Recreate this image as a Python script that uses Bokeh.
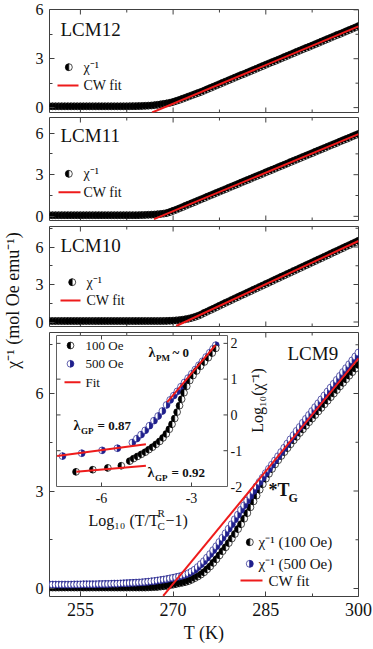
import math
from bokeh.plotting import figure
from bokeh.models import Range1d, LinearAxis, FixedTicker, Label, ColumnDataSource
from bokeh.layouts import column, row
from bokeh.embed import file_html
from bokeh.resources import INLINE
from bokeh.core.properties import value

# ------------------------------------------------------------------ data
T_K = [250.0, 250.5, 251.0, 251.5, 252.0, 252.5, 253.0, 253.5, 254.0, 254.5,
       255.0, 255.5, 256.0, 256.5, 257.0, 257.5, 258.0, 258.5, 259.0, 259.5,
       260.0, 260.5, 261.0, 261.5, 262.0, 262.5, 263.0, 263.5, 264.0, 264.5,
       265.0, 265.5, 266.0, 266.5, 267.0, 267.5, 268.0, 268.5, 269.0, 269.5,
       270.0, 270.5, 271.0, 271.5, 272.0, 272.5, 273.0, 273.5, 274.0, 274.5,
       275.0, 275.5, 276.0, 276.5, 277.0, 277.5, 278.0, 278.5, 279.0, 279.5,
       280.0, 280.5, 281.0, 281.5, 282.0, 282.5, 283.0, 283.5, 284.0, 284.5,
       285.0, 285.5, 286.0, 286.5, 287.0, 287.5, 288.0, 288.5, 289.0, 289.5,
       290.0, 290.5, 291.0, 291.5, 292.0, 292.5, 293.0, 293.5, 294.0, 294.5,
       295.0, 295.5, 296.0, 296.5, 297.0, 297.5, 298.0, 298.5, 299.0, 299.5,
       300.0]

chi_lcm12 = [0.08, 0.08, 0.08, 0.08, 0.08, 0.08, 0.08, 0.08, 0.08, 0.08,
             0.08, 0.08, 0.08, 0.08, 0.08, 0.08, 0.08, 0.08, 0.08, 0.08,
             0.08, 0.08, 0.08, 0.08, 0.08, 0.08, 0.085, 0.09, 0.09, 0.095,
             0.10, 0.11, 0.12, 0.13, 0.15, 0.17, 0.20, 0.23, 0.26, 0.30,
             0.35, 0.41, 0.47, 0.54, 0.61, 0.68, 0.75, 0.82, 0.89, 0.96,
             1.04, 1.12, 1.20, 1.28, 1.36, 1.44, 1.52, 1.60, 1.68, 1.76,
             1.84, 1.92, 2.00, 2.07, 2.15, 2.23, 2.31, 2.39, 2.47, 2.55,
             2.63, 2.71, 2.79, 2.86, 2.94, 3.02, 3.10, 3.18, 3.26, 3.34,
             3.42, 3.50, 3.58, 3.66, 3.73, 3.81, 3.89, 3.97, 4.05, 4.13,
             4.21, 4.29, 4.37, 4.45, 4.52, 4.60, 4.68, 4.76, 4.84, 4.92,
             5.00]

chi_lcm11 = [0.08, 0.08, 0.08, 0.08, 0.08, 0.08, 0.08, 0.08, 0.08, 0.08,
             0.08, 0.08, 0.08, 0.08, 0.08, 0.08, 0.08, 0.08, 0.08, 0.08,
             0.08, 0.08, 0.08, 0.08, 0.08, 0.08, 0.08, 0.08, 0.08, 0.085,
             0.09, 0.10, 0.11, 0.12, 0.13, 0.15, 0.17, 0.20, 0.24, 0.31,
             0.40, 0.48, 0.57, 0.66, 0.76, 0.85, 0.94, 1.03, 1.13, 1.22,
             1.31, 1.41, 1.50, 1.59, 1.69, 1.78, 1.87, 1.96, 2.06, 2.15,
             2.24, 2.33, 2.43, 2.52, 2.61, 2.70, 2.80, 2.89, 2.98, 3.07,
             3.17, 3.26, 3.35, 3.44, 3.54, 3.63, 3.72, 3.81, 3.91, 4.00,
             4.09, 4.18, 4.28, 4.37, 4.46, 4.55, 4.65, 4.74, 4.83, 4.92,
             5.02, 5.11, 5.20, 5.29, 5.39, 5.48, 5.57, 5.66, 5.76, 5.85,
             5.94]

chi_lcm10 = [0.08, 0.08, 0.08, 0.08, 0.08, 0.08, 0.08, 0.08, 0.08, 0.08,
             0.08, 0.08, 0.08, 0.08, 0.08, 0.08, 0.08, 0.08, 0.08, 0.08,
             0.08, 0.08, 0.08, 0.08, 0.08, 0.08, 0.08, 0.08, 0.08, 0.08,
             0.08, 0.08, 0.08, 0.08, 0.08, 0.08, 0.08, 0.085, 0.09, 0.10,
             0.11, 0.13, 0.15, 0.18, 0.22, 0.27, 0.33, 0.40, 0.49, 0.59,
             0.72, 0.83, 0.95, 1.06, 1.18, 1.30, 1.42, 1.54, 1.65, 1.77,
             1.89, 2.00, 2.12, 2.23, 2.35, 2.46, 2.58, 2.69, 2.81, 2.92,
             3.04, 3.15, 3.27, 3.39, 3.50, 3.62, 3.73, 3.85, 3.96, 4.08,
             4.19, 4.31, 4.42, 4.54, 4.65, 4.77, 4.88, 5.00, 5.11, 5.23,
             5.34, 5.46, 5.58, 5.69, 5.81, 5.92, 6.04, 6.15, 6.27, 6.38,
             6.50]

chi_lcm9_100 = [0.03, 0.03, 0.03, 0.03, 0.03, 0.03, 0.03, 0.03, 0.03, 0.03,
                0.03, 0.03, 0.03, 0.03, 0.03, 0.03, 0.03, 0.03, 0.03, 0.03,
                0.03, 0.03, 0.03, 0.03, 0.03, 0.03, 0.03, 0.03, 0.03, 0.03,
                0.03, 0.03, 0.035, 0.04, 0.045, 0.05, 0.06, 0.07, 0.085, 0.10,
                0.12, 0.14, 0.16, 0.18, 0.20, 0.23, 0.27, 0.32, 0.37, 0.43,
                0.50, 0.59, 0.68, 0.79, 0.90, 1.02, 1.15, 1.27, 1.40, 1.54,
                1.68, 1.83, 1.98, 2.15, 2.32, 2.50, 2.68, 2.86, 3.04, 3.21,
                3.38, 3.53, 3.68, 3.82, 3.95, 4.08, 4.20, 4.32, 4.44, 4.56,
                4.67, 4.79, 4.90, 5.01, 5.12, 5.23, 5.34, 5.45, 5.56, 5.67,
                5.78, 5.89, 6.00, 6.11, 6.22, 6.33, 6.44, 6.55, 6.66, 6.77,
                6.88]

chi_lcm9_500 = [0.12, 0.12, 0.12, 0.12, 0.12, 0.12, 0.12, 0.12, 0.125, 0.125,
                0.125, 0.13, 0.13, 0.13, 0.13, 0.13, 0.135, 0.135, 0.14, 0.14,
                0.145, 0.15, 0.15, 0.155, 0.16, 0.165, 0.17, 0.175, 0.18, 0.185,
                0.19, 0.20, 0.21, 0.22, 0.23, 0.245, 0.26, 0.275, 0.29, 0.31,
                0.33, 0.35, 0.37, 0.40, 0.43, 0.47, 0.52, 0.58, 0.66, 0.75,
                0.84, 0.95, 1.06, 1.18, 1.30, 1.43, 1.56, 1.70, 1.84, 1.98,
                2.13, 2.27, 2.42, 2.56, 2.71, 2.85, 3.00, 3.14, 3.28, 3.41,
                3.55, 3.68, 3.81, 3.94, 4.07, 4.20, 4.33, 4.46, 4.59, 4.72,
                4.85, 4.97, 5.10, 5.22, 5.34, 5.46, 5.58, 5.70, 5.82, 5.94,
                6.06, 6.18, 6.30, 6.42, 6.54, 6.66, 6.78, 6.90, 7.02, 7.14,
                7.26]

# Curie-Weiss fit lines (end points)
cw_lcm12_T, cw_lcm12 = [266.6, 300.0], [-0.30, 4.98]
cw_lcm11_T, cw_lcm11 = [266.9, 300.0], [-0.20, 5.92]
cw_lcm10_T, cw_lcm10 = [270.5, 300.0], [-0.32, 6.48]
cw_lcm9_T, cw_lcm9 = [268.4, 300.0], [-0.23, 7.08]

# inset: Log10(chi^-1) vs Log10(T/Tc^R - 1)
ins_x_500 = [-7.30, -6.66, -5.98, -5.47, -4.97, -4.82, -4.68, -4.54, -4.40, -4.25,
             -4.11, -3.97, -3.83, -3.71, -3.59, -3.47, -3.35, -3.23, -3.11, -2.99,
             -2.87, -2.75, -2.63, -2.51, -2.39, -2.28, -2.19]
ins_y_500 = [-1.15, -1.07, -0.99, -0.93, -0.77, -0.66, -0.55, -0.43, -0.30, -0.16,
             -0.03, 0.11, 0.28, 0.42, 0.54, 0.66, 0.79, 0.91, 1.03, 1.15,
             1.27, 1.39, 1.50, 1.62, 1.74, 1.85, 1.95]
ins_x_100 = [-6.85, -6.29, -5.79, -5.34, -5.06, -4.93, -4.80, -4.67, -4.54, -4.42,
             -4.30, -4.18, -4.06, -3.95, -3.84, -3.74, -3.65, -3.56, -3.48, -3.40,
             -3.33, -3.25, -3.16, -3.06, -2.95, -2.83, -2.70, -2.57, -2.44, -2.31,
             -2.19]
ins_y_100 = [-1.59, -1.53, -1.48, -1.42, -1.29, -1.22, -1.16, -1.10, -1.04, -0.97,
             -0.90, -0.82, -0.74, -0.64, -0.53, -0.40, -0.26, -0.10, 0.08, 0.26,
             0.44, 0.62, 0.80, 0.96, 1.10, 1.23, 1.36, 1.48, 1.60, 1.73,
             1.86]
fit_pm_x, fit_pm_y = [-3.81, -2.20], [0.36, 1.95]
fit_gp500_x, fit_gp500_y = [-7.48, -4.52], [-1.15, -0.82]
fit_gp100_x, fit_gp100_y = [-6.84, -4.52], [-1.59, -1.42]

# axes
T_RANGE = (250, 300)
x_ticks = [255, 270, 285, 300]
x_minor = [262.5, 277.5, 292.5]
y_ticks = [0, 3, 6]
y_minor = [1.5, 4.5, 7.5]
ins_x_ticks = [-6, -3]
ins_y_ticks = [-2, -1, 0, 1, 2]
ins_x_labels = ["-6", "-3"]
ins_y_labels = ["-2", "-1", "0", "1", "2"]
ins_x_range = (-7.5, -1.8)
ins_y_range = (-2.0, 2.22)

# ------------------------------------------------------------------ style / layout
FONT = "Liberation Serif"
RED = "#ee1b1b"
NAVY = "#1f1f8c"
INK = "#111111"
FRAME = "#404040"

LEFT_W = 24                 # column holding the shared y title
MAIN_W = 373 - LEFT_W       # 349
FRAME_L = 49                # window x of the frames' left edge
FRAME_R = 358               # window x of the frames' right edge
BL = FRAME_L - LEFT_W
BR = 373 - FRAME_R
FW = FRAME_R - FRAME_L


def hx(wx):
    return wx - FRAME_L


def txt(p, x, y, s, size, xr="px", yr="px", bold=False, align="left",
        angle=0.0, color=INK, baseline="middle"):
    p.text(x=[x], y=[y], text=[s], x_range_name=xr, y_range_name=yr,
           text_font=value(FONT), text_font_size=size,
           text_font_style="bold" if bold else "normal",
           text_align=align, text_baseline=baseline, angle=angle,
           text_color=color)


def half_marks(p, xs, ys, dark, side, r=3.5, xr="default", yr="default", lw=0.7):
    X, Y, A0, A1, FC = [], [], [], [], []
    for x, y in zip(xs, ys):
        X += [x, x]
        Y += [y, y]
        A0 += [math.pi / 2, -math.pi / 2]
        A1 += [3 * math.pi / 2, math.pi / 2]
        FC += [dark, "white"] if side == "left" else ["white", dark]
    src = ColumnDataSource(dict(x=X, y=Y, a0=A0, a1=A1, fc=FC))
    p.wedge(x="x", y="y", radius=r, radius_units="screen",
            start_angle="a0", end_angle="a1", fill_color="fc",
            line_color=dark, line_width=lw, source=src,
            x_range_name=xr, y_range_name=yr)


def ticks(p, xs, ys, length, angle, xr="default", yr="default"):
    p.ray(x=xs, y=ys, length=length, length_units="screen", angle=angle,
          line_color=FRAME, line_width=1, x_range_name=xr, y_range_name=yr)


def style_axis(ax, font_size="16px"):
    ax.major_tick_in = 5
    ax.major_tick_out = 0
    ax.minor_tick_in = 3
    ax.minor_tick_out = 0
    ax.axis_line_color = None
    ax.major_tick_line_color = FRAME
    ax.minor_tick_line_color = FRAME
    ax.major_label_text_font = FONT
    ax.major_label_text_font_size = font_size
    ax.major_label_text_color = INK
    ax.major_label_standoff = 6


def make_panel(height, btop, bbot, yr, bottom_axis=False):
    p = figure(width=MAIN_W, height=height, x_range=Range1d(*T_RANGE),
               y_range=Range1d(*yr), x_axis_location=None, y_axis_location=None,
               toolbar_location=None, output_backend="svg",
               min_border_left=BL, min_border_right=BR,
               min_border_top=btop, min_border_bottom=bbot)
    p.outline_line_color = FRAME
    p.outline_line_width = 1
    p.xgrid.visible = False
    p.ygrid.visible = False
    p.background_fill_color = "white"
    p.border_fill_color = "white"
    fh = height - btop - bbot
    p.extra_x_ranges = {"px": Range1d(0, FW)}
    p.extra_y_ranges = {"px": Range1d(fh, 0)}
    yax = LinearAxis(ticker=FixedTicker(ticks=y_ticks, minor_ticks=y_minor))
    style_axis(yax)
    p.add_layout(yax, "left")
    inner_x = [t for t in x_ticks if T_RANGE[0] < t < T_RANGE[1]]
    if bottom_axis:
        xax = LinearAxis(ticker=FixedTicker(ticks=x_ticks, minor_ticks=x_minor),
                         axis_label="T (K)")
        style_axis(xax, "18px")
        xax.major_label_standoff = 6
        xax.axis_label_standoff = 4
        xax.axis_label_text_font = FONT
        xax.axis_label_text_font_size = "18px"
        xax.axis_label_text_font_style = "normal"
        xax.axis_label_text_color = INK
        p.add_layout(xax, "below")
    else:
        ticks(p, inner_x, [yr[0]] * len(inner_x), 5, math.pi / 2)
        ticks(p, x_minor, [yr[0]] * len(x_minor), 3, math.pi / 2)
    ticks(p, inner_x, [yr[1]] * len(inner_x), 5, -math.pi / 2)
    ticks(p, x_minor, [yr[1]] * len(x_minor), 3, -math.pi / 2)
    yt = [t for t in y_ticks if yr[0] < t < yr[1]]
    ym = [t for t in y_minor if yr[0] < t < yr[1]]
    ticks(p, [T_RANGE[1]] * len(yt), yt, 5, math.pi)
    ticks(p, [T_RANGE[1]] * len(ym), ym, 3, math.pi)
    return p, fh


def simple_panel(height, btop, bbot, yr, top_y, data, fit_T, fit_y,
                 name, name_y, mark, line_y, line_x, text_x):
    p, fh = make_panel(height, btop, bbot, yr)

    def hy(wy):
        return wy - top_y

    half_marks(p, T_K, data, "black", "left")
    p.line(fit_T, fit_y, line_color=RED, line_width=2)
    txt(p, hx(60), hy(name_y), name, "19px")
    half_marks(p, [hx(mark[0])], [hy(mark[1])], "black", "left", xr="px", yr="px")
    txt(p, hx(text_x), hy(mark[1]), "χ⁻¹", "14px")
    p.line([hx(line_x[0]), hx(line_x[1])], [hy(line_y)] * 2,
           line_color=RED, line_width=2, x_range_name="px", y_range_name="px")
    txt(p, hx(text_x), hy(line_y), "CW fit", "14px")
    return p


# canvas rows: 0-116, 116-225, 225-331, 331-649 (window px)
p1 = simple_panel(116, 9, 4, (-0.3, 6.02), 9, chi_lcm12, cw_lcm12_T, cw_lcm12,
                  "LCM12", 28.5, (68.3, 66.7), 85.0, (57, 78), 83)
p2 = simple_panel(109, 1, 5, (-0.3, 7.12), 117, chi_lcm11, cw_lcm11_T, cw_lcm11,
                  "LCM11", 135.0, (68.3, 173.3), 191.7, (58, 80), 83)
p3 = simple_panel(106, 1, 5, (-0.36, 7.64), 226, chi_lcm10, cw_lcm10_T, cw_lcm10,
                  "LCM10", 245.0, (71.7, 281.7), 300.0, (60, 80), 86)

# ---------------- panel 4 (LCM9) with inset
TOP4 = 332
p4, fh4 = make_panel(318, 1, 53, (-0.246, 7.877), bottom_axis=True)


def hy4(wy):
    return wy - TOP4


half_marks(p4, T_K, chi_lcm9_100, "black", "left")
half_marks(p4, T_K, chi_lcm9_500, NAVY, "right")
p4.line(cw_lcm9_T, cw_lcm9, line_color=RED, line_width=2)

txt(p4, hx(287), hy4(353), "LCM9", "19px")
half_marks(p4, [hx(249.3)], [hy4(541.7)], "black", "left", xr="px", yr="px")
txt(p4, hx(258), hy4(541.5), "χ⁻¹ (100 Oe)", "15px")
half_marks(p4, [hx(249.3)], [hy4(563.3)], NAVY, "right", xr="px", yr="px")
txt(p4, hx(258), hy4(563), "χ⁻¹ (500 Oe)", "15px")
p4.line([hx(240), hx(262)], [hy4(580)] * 2, line_color=RED, line_width=2,
        x_range_name="px", y_range_name="px")
txt(p4, hx(268), hy4(580), "CW fit", "15px")
txt(p4, hx(268), hy4(489), "*T", "18px", bold=True)
txt(p4, hx(288), hy4(497), "G", "12px", bold=True)

# inset ranges mapped through extra ranges of panel 4
IX0, IX1 = hx(56), hx(227)
IY0, IY1 = hy4(335), hy4(486)
sxp = (IX1 - IX0) / (ins_x_range[1] - ins_x_range[0])
syp = (IY1 - IY0) / (ins_y_range[1] - ins_y_range[0])
p4.extra_x_ranges["ix"] = Range1d(ins_x_range[0] - IX0 / sxp,
                                  ins_x_range[1] + (FW - IX1) / sxp)
p4.extra_y_ranges["iy"] = Range1d(ins_y_range[0] - (fh4 - IY1) / syp,
                                  ins_y_range[1] + IY0 / syp)

p4.quad(left=[ins_x_range[0]], right=[ins_x_range[1]], bottom=[ins_y_range[0]],
        top=[ins_y_range[1]], fill_color="white", line_color="#606060", line_width=1,
        x_range_name="ix", y_range_name="iy")
nx = len(ins_x_ticks)
ticks(p4, ins_x_ticks, [ins_y_range[0]] * nx, 4, math.pi / 2, "ix", "iy")
ticks(p4, ins_x_ticks, [ins_y_range[1]] * nx, 4, -math.pi / 2, "ix", "iy")
inner_y = [t for t in ins_y_ticks if ins_y_range[0] < t < ins_y_range[1]]
ticks(p4, [ins_x_range[1]] * len(inner_y), inner_y, 4, math.pi, "ix", "iy")
ticks(p4, [ins_x_range[0]] * len(inner_y), inner_y, 4, 0.0, "ix", "iy")

half_marks(p4, ins_x_500, ins_y_500, NAVY, "right", r=3.4, xr="ix", yr="iy")
half_marks(p4, ins_x_100, ins_y_100, "black", "left", r=3.4, xr="ix", yr="iy")
for fx, fy in ((fit_pm_x, fit_pm_y), (fit_gp500_x, fit_gp500_y), (fit_gp100_x, fit_gp100_y)):
    p4.line(fx, fy, line_color=RED, line_width=2, x_range_name="ix", y_range_name="iy")

for t, s in zip(ins_x_ticks, ins_x_labels):
    txt(p4, t, hy4(497), s, "14px", xr="ix", yr="px", align="center")
for t, s in zip(ins_y_ticks, ins_y_labels):
    txt(p4, hx(230), t, s, "14px", xr="px", yr="iy")
txt(p4, hx(88), hy4(520), "Log₁₀ (T/T", "16px")
txt(p4, hx(157), hy4(525.5), "C", "11px")
txt(p4, hx(157), hy4(512), "R", "11px")
txt(p4, hx(165), hy4(520), "−1)", "16px")
txt(p4, hx(257), hy4(400), "Log₁₀(χ⁻¹)", "16px", align="center", angle=math.pi / 2)

# inset legend
half_marks(p4, [hx(70)], [hy4(345)], "black", "left", r=3.4, xr="px", yr="px")
txt(p4, hx(85), hy4(345), "100 Oe", "13px")
half_marks(p4, [hx(70)], [hy4(363.3)], NAVY, "right", r=3.4, xr="px", yr="px")
txt(p4, hx(85), hy4(363.3), "500 Oe", "13px")
p4.line([hx(64), hx(80)], [hy4(381.7)] * 2, line_color=RED, line_width=2,
        x_range_name="px", y_range_name="px")
txt(p4, hx(85), hy4(381.7), "Fit", "13px")

# lambda annotations
for (lx, ly, sub, rest) in ((148, 352, "PM", "~ 0"), (73, 425, "GP", "= 0.87"),
                            (147, 472, "GP", "= 0.92")):
    txt(p4, hx(lx), hy4(ly), "λ", "14px", bold=True)
    txt(p4, hx(lx + 7.5), hy4(ly + 5), sub, "9px", bold=True)
    txt(p4, hx(lx + 24), hy4(ly), rest, "13px", bold=True)

# ---------------- shared y-axis title
lab = figure(width=LEFT_W, height=649, x_range=Range1d(0, LEFT_W), y_range=Range1d(0, 649),
             x_axis_location=None, y_axis_location=None, toolbar_location=None,
             output_backend="svg", min_border=0)
lab.outline_line_color = None
lab.xgrid.visible = False
lab.ygrid.visible = False
lab.add_layout(Label(x=12, y=649 - 300, text="χ⁻¹ (mol Oe emu⁻¹)", angle=math.pi / 2,
                     text_align="center", text_baseline="middle", text_font=FONT,
                     text_font_size="18px", text_color=INK))

layout = row(lab, column(p1, p2, p3, p4, spacing=0), spacing=0)
open("out.html", "w").write(file_html(layout, INLINE))
